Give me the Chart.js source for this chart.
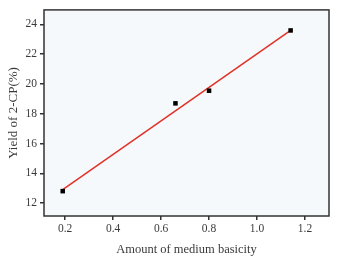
<!DOCTYPE html>
<html>
<head>
<meta charset="utf-8">
<script src="https://cdn.jsdelivr.net/npm/chart.js@4/dist/chart.umd.min.js"></script>
<style>
    html, body { margin: 0; padding: 0; background: #ffffff; }
    #wrap { width: 338px; height: 257px; }
</style>
</head>
<body>
<div id="wrap"><canvas id="yieldChart" width="338" height="257"></canvas></div>
<script>
// Measured points
const basicity = [0.19, 0.66, 0.80, 1.14];
const yieldValues = [12.8, 18.7, 19.55, 23.6];

// Linear fit line endpoints
const fitX = [0.19, 1.14];
const fitY = [12.9, 23.6];

const xTicks = [0.2, 0.4, 0.6, 0.8, 1.0, 1.2];
const yTicks = [12, 14, 16, 18, 20, 22, 24];

const axisColor = '#333333';
const textColor = '#3a3a3a';
const fontFamily = '"Liberation Serif", "DejaVu Serif", serif';

// plot background + full frame
const framePlugin = {
    id: 'frame',
    beforeDraw(chart) {
        const { ctx, chartArea: a } = chart;
        ctx.save();
        ctx.fillStyle = '#f6f9fc';
        ctx.fillRect(a.left, a.top, a.right - a.left, a.bottom - a.top);
        ctx.restore();
    },
    afterDraw(chart) {
        const { ctx, chartArea: a } = chart;
        ctx.save();
        ctx.strokeStyle = axisColor;
        ctx.lineWidth = 1.5;
        ctx.strokeRect(a.left, a.top, a.right - a.left, a.bottom - a.top);
        ctx.restore();
    }
};

function toPoints(xs, ys) {
    return xs.map((x, i) => ({ x: x, y: ys[i] }));
}

new Chart(document.getElementById('yieldChart'), {
    type: 'scatter',
    data: {
        datasets: [{
            label: 'Fit',
            type: 'line',
            data: toPoints(fitX, fitY),
            borderColor: '#e0352b',
            borderWidth: 1.6,
            pointRadius: 0,
            fill: false,
            order: 2
        }, {
            label: 'Yield',
            data: toPoints(basicity, yieldValues),
            pointStyle: 'rect',
            pointRadius: 3.2,
            backgroundColor: '#000000',
            borderColor: '#000000',
            borderWidth: 0,
            order: 1
        }]
    },
    options: {
        responsive: false,
        animation: false,
        layout: { padding: { top: 5, right: 9, left: 0, bottom: 0 } },
        plugins: {
            legend: { display: false },
            tooltip: { enabled: false }
        },
        scales: {
            x: {
                type: 'linear',
                min: 0.112,
                max: 1.3,
                afterFit(scale) { scale.height = 41; },
                afterBuildTicks(scale) { scale.ticks = xTicks.map(v => ({ value: v })); },
                grid: { display: true, drawOnChartArea: false, tickLength: 4, color: axisColor, lineWidth: 1.5 },
                border: { display: false },
                ticks: {
                    color: textColor,
                    padding: 2,
                    font: { family: fontFamily, size: 11.5 },
                    callback: v => v.toFixed(1)
                },
                title: {
                    display: true,
                    text: 'Amount of medium basicity',
                    color: textColor,
                    font: { family: fontFamily, size: 12.5 },
                    padding: { top: 3, bottom: 0 }
                }
            },
            y: {
                type: 'linear',
                min: 11.13,
                max: 24.98,
                afterFit(scale) { scale.width = 44; },
                afterBuildTicks(scale) { scale.ticks = yTicks.map(v => ({ value: v })); },
                grid: { display: true, drawOnChartArea: false, tickLength: 4, color: axisColor, lineWidth: 1.5 },
                border: { display: false },
                ticks: {
                    color: textColor,
                    padding: 3,
                    font: { family: fontFamily, size: 11.5 },
                    callback: v => String(v)
                },
                title: {
                    display: true,
                    text: 'Yield of 2-CP(%)',
                    color: textColor,
                    font: { family: fontFamily, size: 13 },
                    padding: { top: 6, bottom: 0 }
                }
            }
        }
    },
    plugins: [framePlugin]
});
</script>
</body>
</html>
